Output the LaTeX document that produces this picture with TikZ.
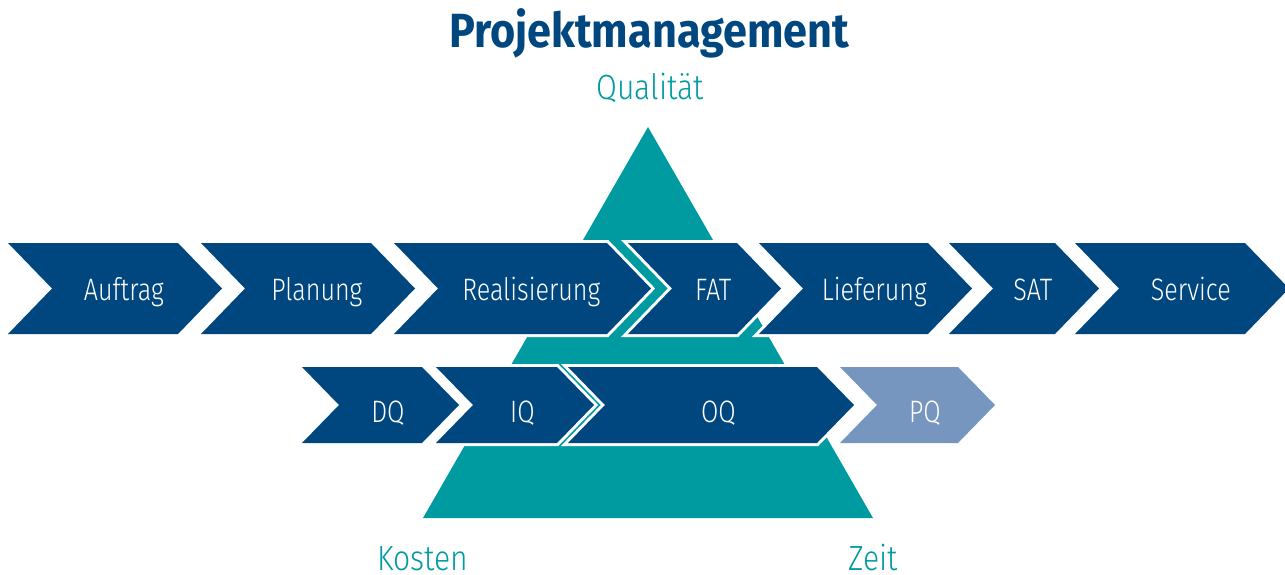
\documentclass[tikz,border=0pt]{standalone}
\usepackage{fontspec}
\setmainfont{Fira Sans Light}
\newfontfamily\titlefont{Fira Sans}
\definecolor{pmblue}{HTML}{00477F}
\definecolor{pmteal}{HTML}{009BA1}
\definecolor{pmlight}{HTML}{7696BF}

% narrowed text, as in a condensed face
\newcommand\narrow[2]{\scalebox{#1}[1]{#2}}

% chevron: left, right, top, bottom, depth, fill colour, name, text
% the text baseline is taken from \rowbase
\newcommand\drawchev[8]{%
  \path[fill=#6, preaction={draw=white, line width=6pt, line join=miter}]
    (#1,#3) -- (#2,#3) -- ({#2+#5},{(#3+#4)/2}) -- (#2,#4) -- (#1,#4)
    -- ({#1+#5},{(#3+#4)/2}) -- cycle;
  \node[steplabel] (#7) at ({(#1+#2)/2+0.7*#5},\rowbase) {\narrow{0.81}{#8}};
}

\tikzset{
  steplabel/.style={text=white, font=\fontsize{31}{31}\selectfont, anchor=base, inner sep=0pt},
  cornerlabel/.style={text=pmteal, font=\fontsize{35}{35}\selectfont, anchor=base, inner sep=0pt},
}

\begin{document}
\begin{tikzpicture}[x=1pt,y=-1pt]
\useasboundingbox (0,0) rectangle (1285,575);

% title
\node[text=pmblue, font=\titlefont\bfseries\fontsize{48}{48}\selectfont, anchor=base, inner sep=0pt]
  (title) at (649,48) {\narrow{0.9}{Projektmanagement}};

% quality triangle behind the process steps
\fill[pmteal] (648,127) -- (873,518) -- (423,518) -- cycle;

\node[cornerlabel] (quality) at (650,100) {\narrow{0.86}{Qualität}};
\node[cornerlabel] (cost) at (423,570) {\narrow{0.86}{Kosten}};
\node[cornerlabel] (time) at (873,570) {\narrow{0.86}{Zeit}};

% project phases
\def\rowbase{300}
\drawchev{8}{178}{243}{334}{44}{pmblue}{auftrag}{Auftrag}
\drawchev{201}{371}{243}{334}{44}{pmblue}{planung}{Planung}
\drawchev{394}{607}{243}{334}{44}{pmblue}{real}{Realisierung}
\drawchev{628}{737}{243}{334}{44}{pmblue}{fat}{FAT}
\drawchev{759}{928}{243}{334}{44}{pmblue}{liefer}{Lieferung}
\drawchev{949}{1055}{243}{334}{44}{pmblue}{sat}{SAT}
\drawchev{1075}{1245}{243}{334}{44}{pmblue}{service}{Service}

% qualification steps
\def\rowbase{422}
\drawchev{302}{422}{367}{443}{37}{pmblue}{dq}{DQ}
\drawchev{436}{557}{367}{443}{37}{pmblue}{iq}{IQ}
\drawchev{568}{817}{367}{443}{37}{pmblue}{oq}{OQ}
\drawchev{840}{958}{367}{443}{37}{pmlight}{pq}{PQ}
\end{tikzpicture}
\end{document}
